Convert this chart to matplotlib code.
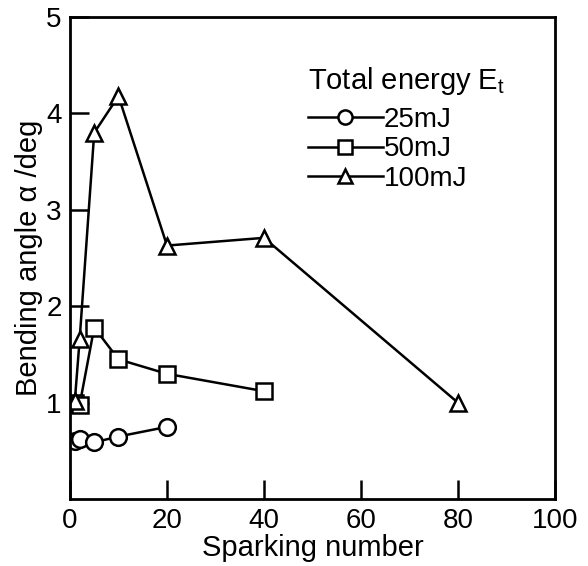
import matplotlib
matplotlib.use("Agg")
import matplotlib.pyplot as plt

plt.rcParams["font.family"] = ["Liberation Sans", "DejaVu Sans"]

# sparking number / bending angle (deg)
x_25 = [1, 2, 5, 10, 20]
y_25 = [0.60, 0.62, 0.59, 0.65, 0.75]

x_50 = [1, 2, 5, 10, 20, 40]
y_50 = [1.0, 0.98, 1.78, 1.45, 1.30, 1.12]

x_100 = [1, 2, 5, 10, 20, 40, 80]
y_100 = [1.02, 1.66, 3.80, 4.18, 2.63, 2.71, 1.0]

labels = ["25mJ", "50mJ", "100mJ"]
xticks = [0, 20, 40, 60, 80, 100]
yticks = [1, 2, 3, 4, 5]

fig = plt.figure(figsize=(5.88, 5.66), dpi=100)
ax = fig.add_axes([0.119, 0.118, 0.825, 0.852])

style = dict(color="black", lw=1.8, markersize=12, markerfacecolor="white",
             markeredgecolor="black", markeredgewidth=1.8)
ax.plot(x_25, y_25, marker="o", label=labels[0], **style)
ax.plot(x_50, y_50, marker="s", label=labels[1], **style)
ax.plot(x_100, y_100, marker="^", label=labels[2], **style)

ax.set_xlim(0, 100)
ax.set_ylim(0, 5)
ax.set_xticks(xticks)
ax.set_yticks(yticks)
ax.tick_params(direction="in", length=14, width=1.8, labelsize=20, pad=6)
for s in ax.spines.values():
    s.set_linewidth(2)

ax.set_xlabel("Sparking number", fontsize=21, labelpad=0)
ax.set_ylabel("Bending angle α /deg", fontsize=21, labelpad=2)

leg = ax.legend(title="Total energy E$_\\mathregular{t}$", loc="upper left",
                bbox_to_anchor=(0.49, 0.90), frameon=False, fontsize=20,
                title_fontsize=21, handlelength=2.7, handletextpad=0.05,
                labelspacing=0.12, markerscale=0.85, borderaxespad=0,
                borderpad=0)
leg._legend_box.align = "left"
leg._legend_box.sep = 7

fig.savefig("out.png", dpi=100)
